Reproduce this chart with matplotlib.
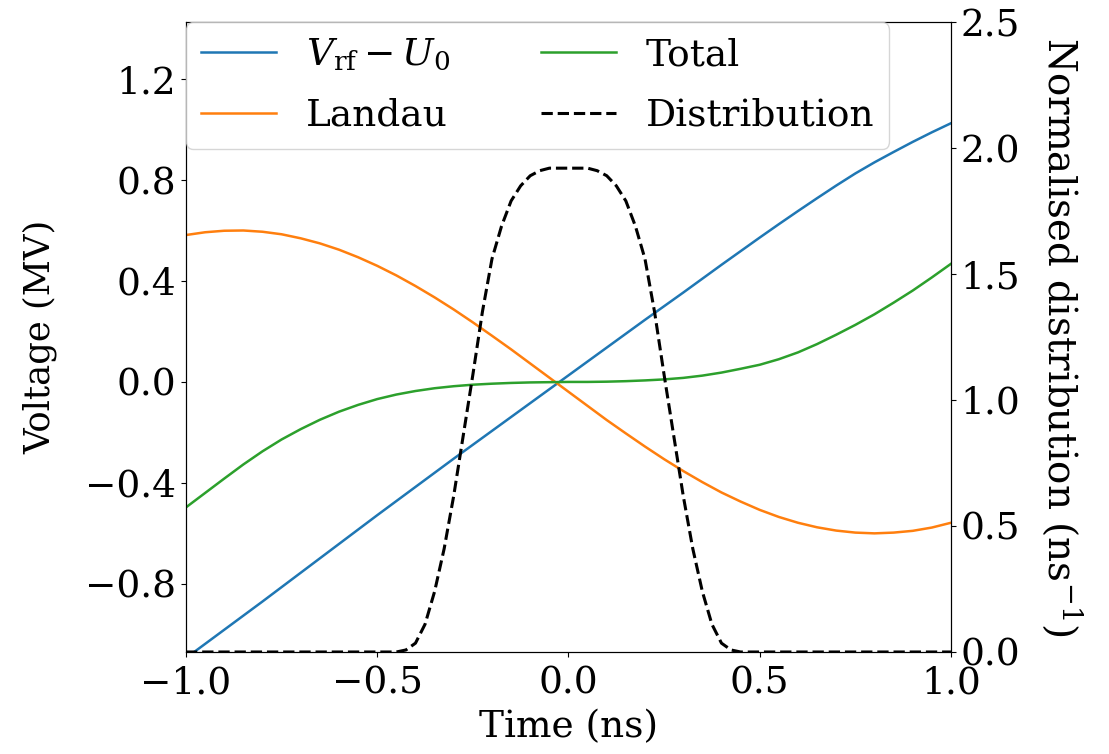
import numpy as np
import matplotlib
matplotlib.use("Agg")
import matplotlib.pyplot as plt

plt.rcParams['font.family'] = 'DejaVu Serif'
plt.rcParams['mathtext.fontset'] = 'dejavuserif'
plt.rcParams['font.size'] = 27

# time axis for the voltage curves (ns)
time = [-1.00, -0.95, -0.90, -0.85, -0.80, -0.75, -0.70, -0.65, -0.60, -0.55,
        -0.50, -0.45, -0.40, -0.35, -0.30, -0.25, -0.20, -0.15, -0.10, -0.05,
        0.00, 0.05, 0.10, 0.15, 0.20, 0.25, 0.30, 0.35, 0.40, 0.45,
        0.50, 0.55, 0.60, 0.65, 0.70, 0.75, 0.80, 0.85, 0.90, 0.95, 1.00]

# voltages (MV)
v_rf = [-1.094, -1.038, -0.982, -0.926, -0.870, -0.813, -0.756, -0.699, -0.642, -0.585,
        -0.528, -0.472, -0.416, -0.360, -0.304, -0.249, -0.194, -0.139, -0.084, -0.029,
        0.026, 0.081, 0.136, 0.191, 0.246, 0.300, 0.354, 0.409, 0.464, 0.518,
        0.572, 0.625, 0.677, 0.728, 0.778, 0.826, 0.870, 0.911, 0.951, 0.989, 1.025]
landau = [0.582, 0.593, 0.599, 0.600, 0.595, 0.585, 0.569, 0.549, 0.524, 0.494,
          0.460, 0.422, 0.380, 0.335, 0.287, 0.236, 0.183, 0.129, 0.073, 0.017,
          -0.039, -0.095, -0.151, -0.204, -0.256, -0.306, -0.353, -0.397, -0.438, -0.474,
          -0.507, -0.535, -0.558, -0.576, -0.589, -0.597, -0.600, -0.597, -0.590, -0.577, -0.558]
total = [-0.497, -0.440, -0.383, -0.327, -0.275, -0.228, -0.187, -0.150, -0.118, -0.091,
         -0.068, -0.050, -0.036, -0.025, -0.017, -0.011, -0.007, -0.004, -0.002, -0.001,
         0.000, 0.000, 0.001, 0.003, 0.006, 0.010, 0.016, 0.025, 0.037, 0.052,
         0.068, 0.090, 0.117, 0.150, 0.187, 0.226, 0.268, 0.314, 0.362, 0.414, 0.468]

# bunch distribution (ns^-1), finer sampling on the edges
dist_time = [-1.0, -0.45, -0.425, -0.40, -0.375, -0.35, -0.325, -0.30, -0.275, -0.25,
             -0.225, -0.20, -0.175, -0.15, -0.125, -0.10, -0.075, -0.05, -0.025, 0.0,
             0.025, 0.05, 0.075, 0.10, 0.125, 0.15, 0.175, 0.20, 0.225, 0.25,
             0.275, 0.30, 0.325, 0.35, 0.375, 0.40, 0.425, 0.45, 1.0]
dist = [0.0, 0.0, 0.008, 0.035, 0.11, 0.24, 0.41, 0.62, 0.86, 1.10,
        1.35, 1.56, 1.69, 1.79, 1.85, 1.89, 1.91, 1.92, 1.92, 1.92,
        1.92, 1.92, 1.91, 1.89, 1.85, 1.79, 1.69, 1.56, 1.35, 1.10,
        0.86, 0.62, 0.41, 0.24, 0.11, 0.035, 0.008, 0.0, 0.0]

fig, ax = plt.subplots(figsize=(11.09, 7.54), dpi=100)
fig.subplots_adjust(left=0.1677, right=0.8575, top=0.9708, bottom=0.1353)

l1, = ax.plot(time, v_rf, color='tab:blue', lw=1.8, label=r'$V_{\rm rf} - U_0$')
l2, = ax.plot(time, landau, color='tab:orange', lw=1.8, label='Landau')
l3, = ax.plot(time, total, color='tab:green', lw=1.8, label='Total')

ax.set_xlim(-1, 1)
ax.set_ylim(-1.07, 1.426)
ax.set_xticks([-1.0, -0.5, 0.0, 0.5, 1.0])
ax.set_yticks([-0.8, -0.4, 0.0, 0.4, 0.8, 1.2])
ax.tick_params(axis='x', pad=6)
ax.set_xlabel('Time (ns)', labelpad=6)
ax.set_ylabel('Voltage (MV)', fontsize=25.5, labelpad=20)

ax2 = ax.twinx()
l4, = ax2.plot(dist_time, dist, color='black', ls='--', lw=2.2, label='Distribution')
ax2.set_ylim(0, 2.5)
ax2.set_yticks([0.0, 0.5, 1.0, 1.5, 2.0, 2.5])
ax2.set_ylabel(r'Normalised distribution (ns$^{-1}$)', fontsize=28,
               rotation=270, va='bottom', labelpad=14)

ax2.legend(handles=[l1, l2, l3, l4], loc='upper left', ncol=2,
           borderaxespad=0.0, columnspacing=2.4, labelspacing=0.66)

fig.savefig('out.png', dpi=100)
